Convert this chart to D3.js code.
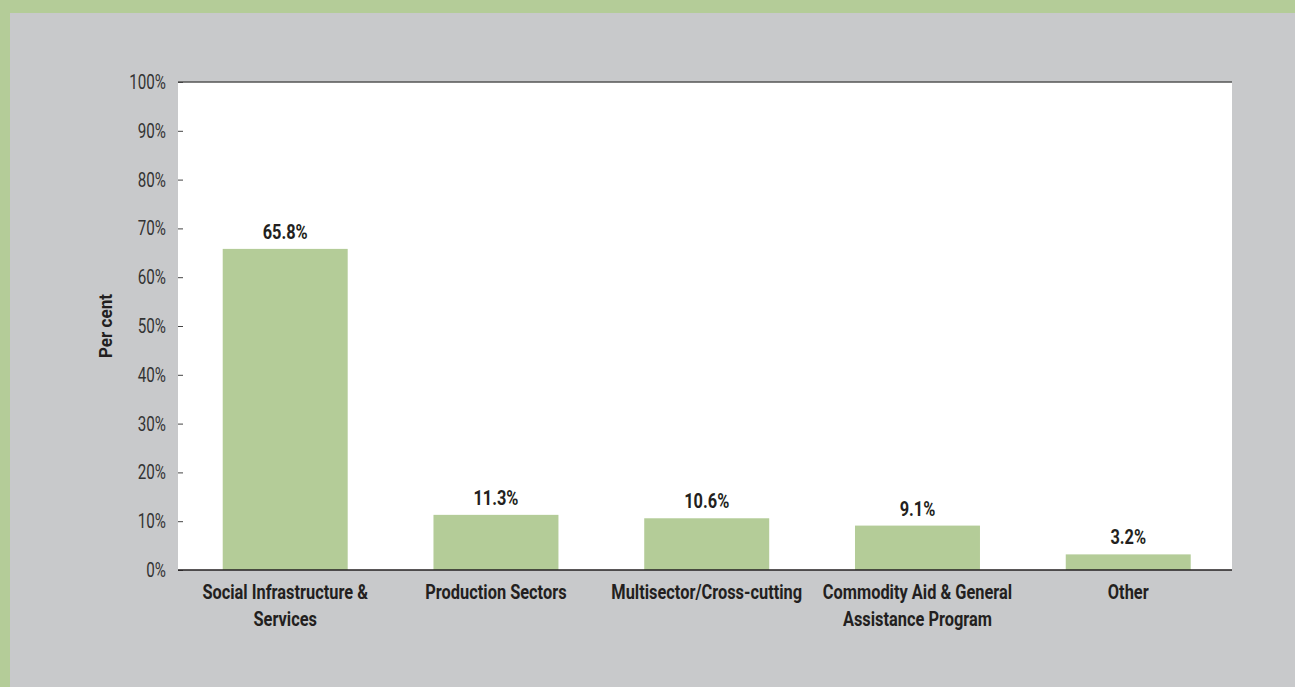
<!DOCTYPE html>
<html>
<head>
    <title>Sector distribution</title>
    <script src="https://d3js.org/d3.v7.min.js"></script>
    <style>
        html, body {
            margin: 0;
            padding: 0;
            background-color: #b4cc98;
        }
        svg {
            display: block;
        }
    </style>
</head>
<body>
<div id="chart"></div>
<script>
    // chart data
    const categories = [
        ["Social Infrastructure &", "Services"],
        ["Production Sectors"],
        ["Multisector/Cross-cutting"],
        ["Commodity Aid & General", "Assistance Program"],
        ["Other"]
    ];
    const values = [65.8, 11.3, 10.6, 9.1, 3.2];
    const yTicks = [0, 10, 20, 30, 40, 50, 60, 70, 80, 90, 100];
    const yTitle = "Per cent";

    const width = 1295;
    const height = 687;
    const margin = {top: 82, right: 63, bottom: 117, left: 178};
    const fontFamily = 'Roboto, "Liberation Sans", sans-serif';
    const squeeze = 0.82; // the original uses a condensed face
    const textColor = "#231f20";

    const svg = d3.select("#chart")
        .append("svg")
        .attr("width", width)
        .attr("height", height);

    // grey panel, green border shows on top and left
    svg.append("rect")
        .attr("x", 10)
        .attr("y", 13)
        .attr("width", width - 10)
        .attr("height", height - 13)
        .attr("fill", "#c8c9cb");

    const x = d3.scaleBand()
        .domain(d3.range(values.length))
        .range([margin.left, width - margin.right])
        .paddingInner(0.407)
        .paddingOuter(0.204)
        .align(0.52);

    const y = d3.scaleLinear()
        .domain([0, 100])
        .range([height - margin.bottom, margin.top]);

    // white plot area
    svg.append("rect")
        .attr("x", margin.left)
        .attr("y", margin.top)
        .attr("width", width - margin.left - margin.right)
        .attr("height", height - margin.top - margin.bottom)
        .attr("fill", "white");

    // top line at 100%
    svg.append("line")
        .attr("x1", margin.left)
        .attr("x2", width - margin.right)
        .attr("y1", y(100))
        .attr("y2", y(100))
        .attr("stroke", "#555")
        .attr("stroke-width", 1.5);

    // bars
    svg.selectAll(".bar")
        .data(values)
        .enter()
        .append("rect")
        .attr("class", "bar")
        .attr("x", (d, i) => x(i))
        .attr("y", d => y(d))
        .attr("width", x.bandwidth())
        .attr("height", d => y(0) - y(d))
        .attr("fill", "#b4cc98");

    // value labels
    svg.selectAll(".value")
        .data(values)
        .enter()
        .append("text")
        .attr("class", "value")
        .text(d => d.toFixed(1) + "%")
        .attr("transform", (d, i) => `translate(${x(i) + x.bandwidth() / 2},${y(d) - 10}) scale(${squeeze},1)`)
        .attr("text-anchor", "middle")
        .attr("fill", textColor)
        .style("font-family", fontFamily)
        .style("font-weight", "bold")
        .style("font-size", "20px");

    // y axis, ticks pointing into the plot
    const yAxis = svg.append("g")
        .attr("transform", `translate(${margin.left},0)`)
        .call(d3.axisLeft(y)
            .tickValues(yTicks)
            .tickFormat(d => d + "%")
            .tickSize(-5));
    yAxis.select(".domain").remove();
    yAxis.selectAll(".tick line").attr("stroke", "#444");
    yAxis.selectAll(".tick text")
        .attr("x", null)
        .attr("transform", "translate(-12,0) scale(0.76,1)")
        .attr("fill", "#333")
        .style("font-family", fontFamily)
        .style("font-weight", "400")
        .style("font-size", "20px");

    // x axis line
    svg.append("line")
        .attr("x1", margin.left)
        .attr("x2", width - margin.right)
        .attr("y1", y(0))
        .attr("y2", y(0))
        .attr("stroke", "#231f20")
        .attr("stroke-width", 1.5);

    // category labels
    const catLabels = svg.selectAll(".cat")
        .data(categories)
        .enter()
        .append("text")
        .attr("class", "cat")
        .attr("transform", (d, i) => `translate(${x(i) + x.bandwidth() / 2},${y(0) + 29}) scale(${squeeze},1)`)
        .attr("text-anchor", "middle")
        .attr("fill", textColor)
        .style("font-family", fontFamily)
        .style("font-weight", "bold")
        .style("font-size", "20px");

    catLabels.each(function (lines) {
        d3.select(this).selectAll("tspan")
            .data(lines)
            .enter()
            .append("tspan")
            .attr("x", 0)
            .attr("y", (d, j) => j * 27)
            .text(d => d);
    });

    // y axis title
    svg.append("text")
        .text(yTitle)
        .attr("transform", `translate(112,${(margin.top + height - margin.bottom) / 2}) rotate(-90) scale(0.9,1)`)
        .attr("text-anchor", "middle")
        .attr("fill", textColor)
        .style("font-family", fontFamily)
        .style("font-weight", "bold")
        .style("font-size", "19px");
</script>
</body>
</html>
